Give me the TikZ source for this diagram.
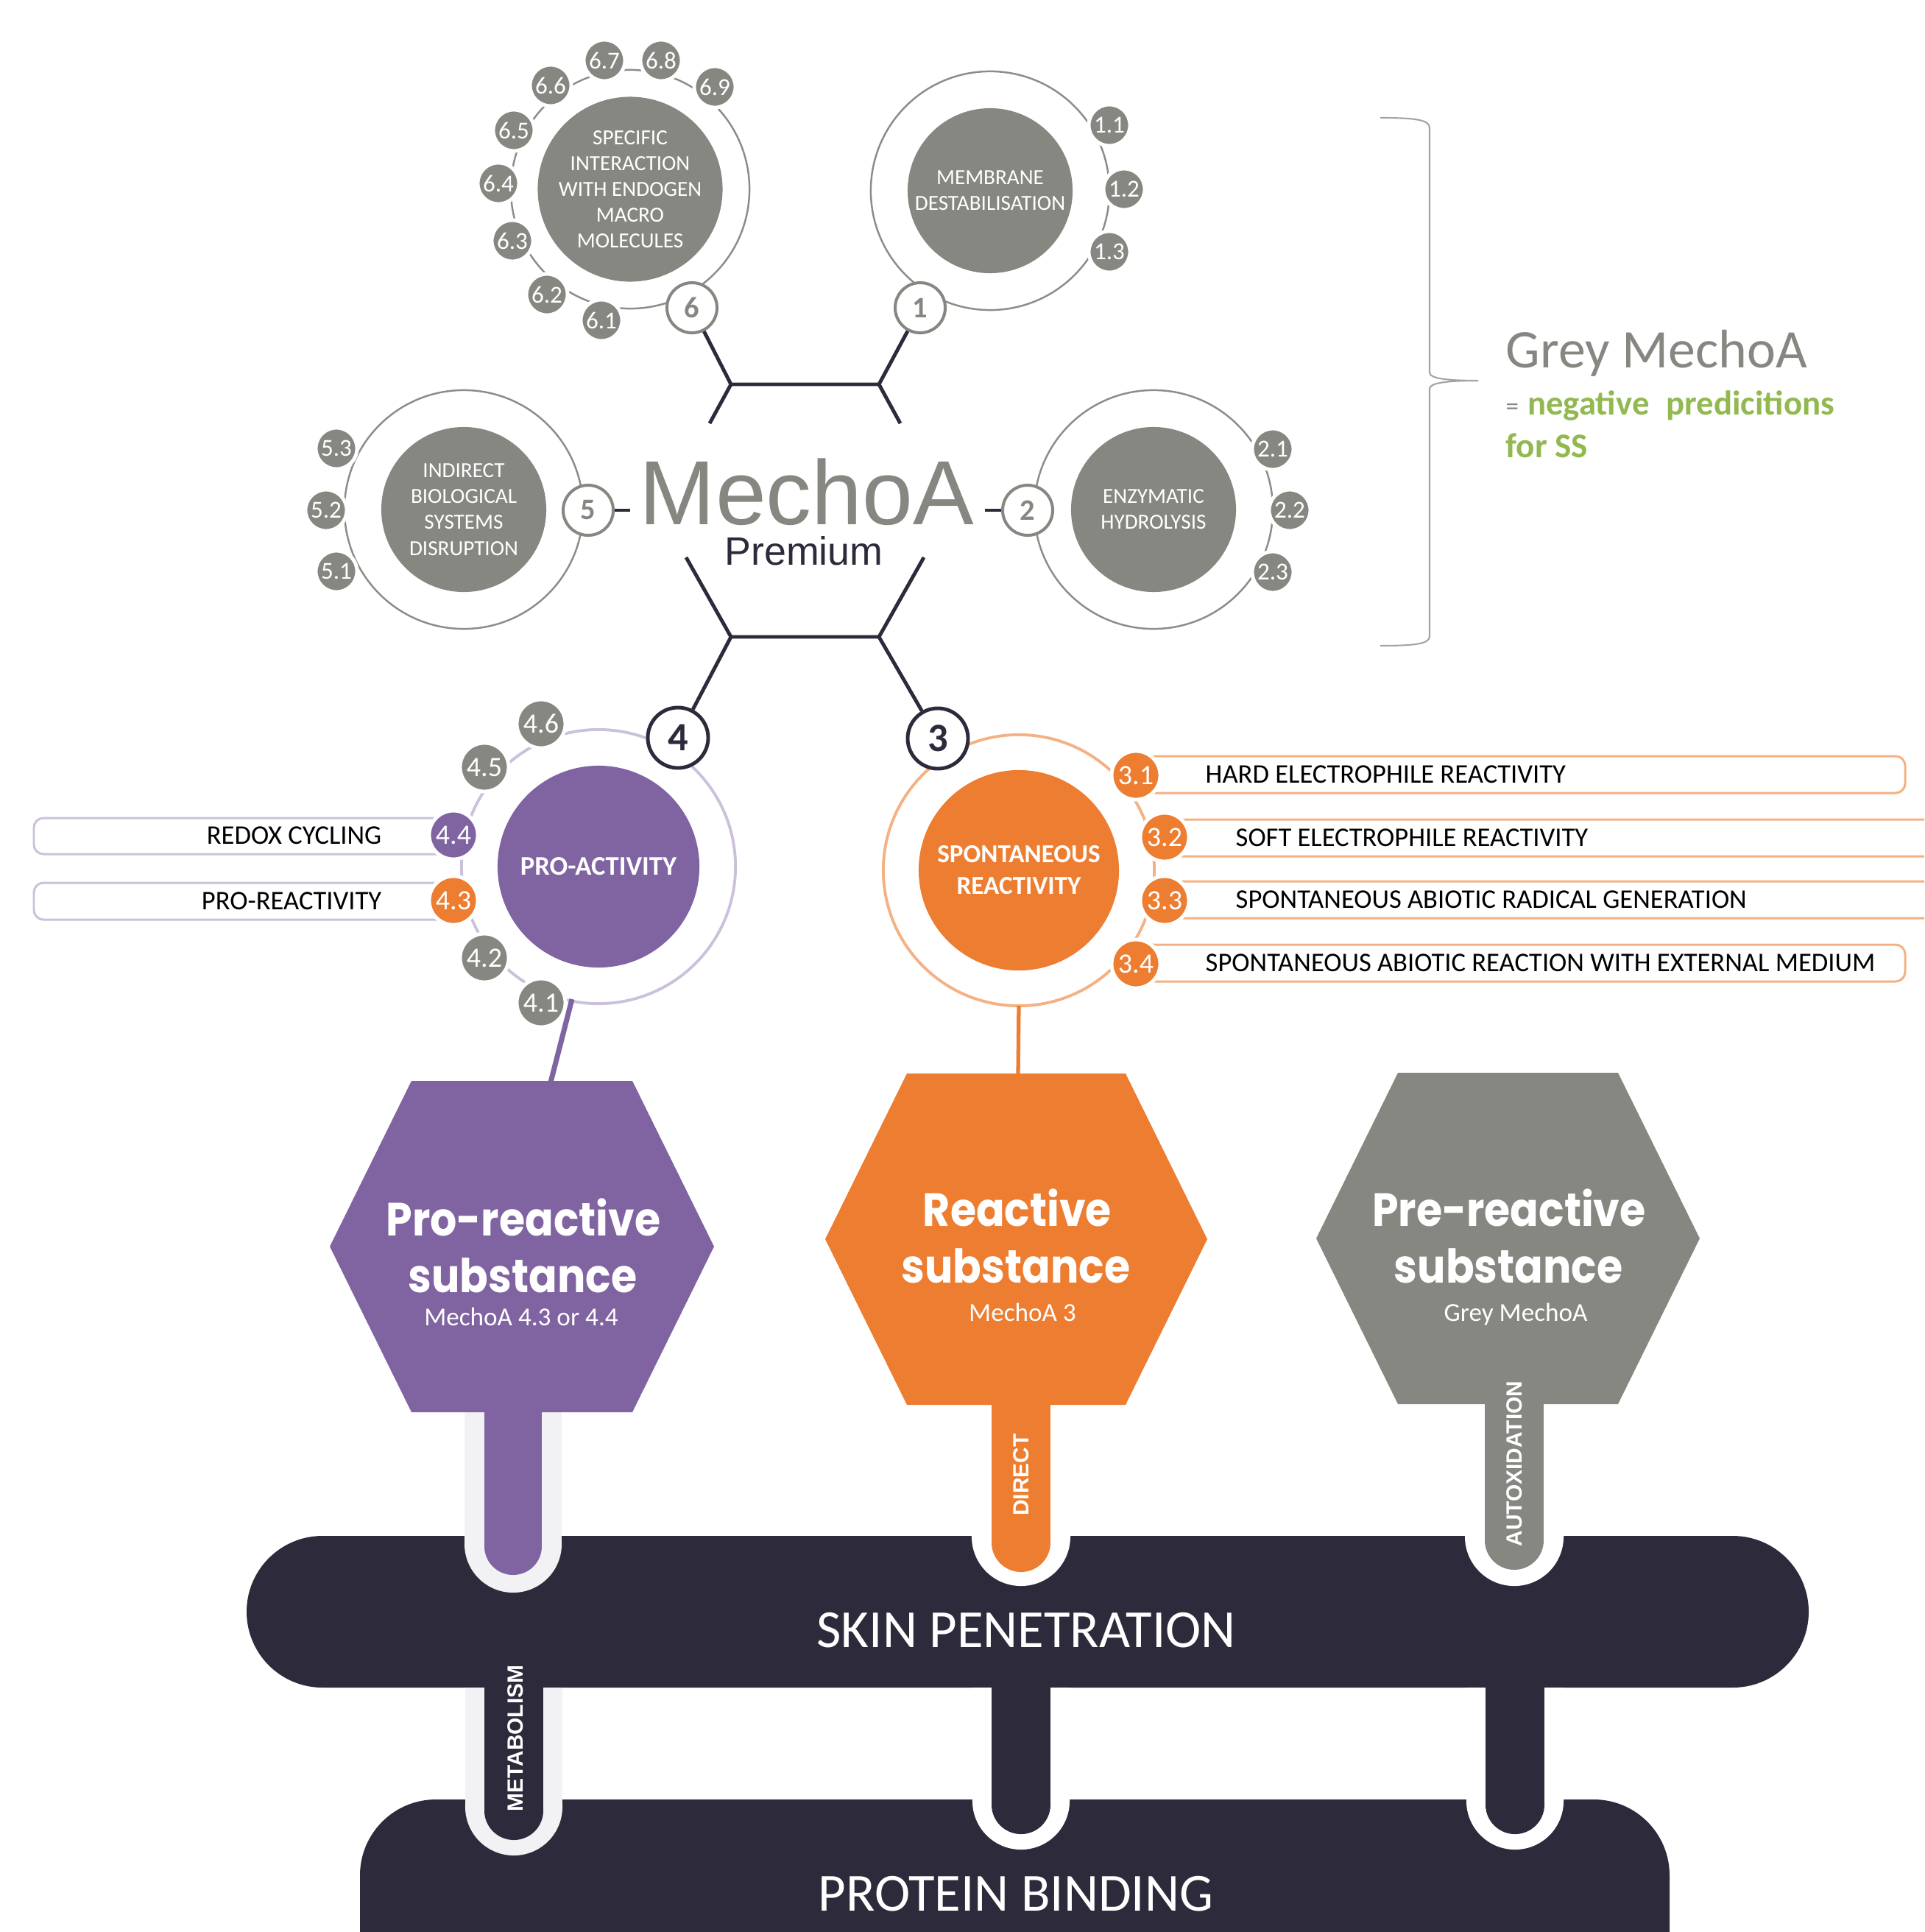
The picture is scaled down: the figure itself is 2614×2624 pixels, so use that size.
\documentclass[tikz,border=0pt]{standalone}
\usepackage{graphicx}
\usepackage{fontspec}
\setmainfont{Carlito}
\newfontfamily\arialf{Liberation Sans}
\newfontfamily\poppf{Poppins}
\definecolor{navy}{RGB}{45,43,59}
\definecolor{mgrey}{RGB}{135,135,130}
\definecolor{ringgrey}{RGB}{140,140,136}
\definecolor{mpurple}{RGB}{128,100,162}
\definecolor{lpurple}{RGB}{204,193,218}
\definecolor{morange}{RGB}{237,125,49}
\definecolor{lorange}{RGB}{244,177,131}
\definecolor{mgreen}{RGB}{146,185,80}
\definecolor{halo}{RGB}{242,242,245}
\newcommand{\htxt}[1]{\scalebox{0.9}[1]{#1}}
\begin{document}
\begin{tikzpicture}[x=0.01cm,y=-0.01cm,
  bub/.style={circle,fill=mgrey,draw=white,line width=1.4pt,minimum size=0.56cm,inner sep=0pt,text=white,font=\fontsize{9.4}{10}\selectfont},
  bubl/.style={bub,minimum size=0.66cm,font=\fontsize{10.8}{12}\selectfont},
  numc/.style={circle,fill=white,draw=mgrey,line width=1.15pt,minimum size=0.68cm,inner sep=0pt,text=mgrey,font=\bfseries\fontsize{11.5}{12}\selectfont},
  numd/.style={numc,draw=navy,text=navy,line width=1.4pt,minimum size=0.82cm,font=\bfseries\fontsize{15.5}{16}\selectfont},
  core/.style={circle,fill=mgrey,minimum size=2.24cm,inner sep=0pt,text=white,align=center,font=\fontsize{8.3}{10}\selectfont},
  ringg/.style={draw=ringgrey,line width=0.7pt},
  hexl/.style={draw=navy,line width=1.4pt},
  lbl/.style={inner sep=0pt,text=black,font=\fontsize{10.4}{12}\selectfont},
  lboxp/.style={draw=lpurple,fill=white,line width=0.85pt,rounded corners=0.13cm},
  lboxo/.style={draw=lorange,fill=white,line width=0.85pt,rounded corners=0.13cm},
  htitle/.style={inner sep=0pt,text=white,anchor=base,font=\poppf\bfseries\fontsize{18}{20}\selectfont},
  hsub/.style={inner sep=0pt,text=white,anchor=base,font=\fontsize{10}{12}\selectfont},
  vlab/.style={inner sep=0pt,text=white,rotate=90,font=\arialf\bfseries\fontsize{8.5}{10}\selectfont},
  barlab/.style={inner sep=0pt,text=white,anchor=base,font=\fontsize{20.7}{24}\selectfont},
]
\useasboundingbox (0,0) rectangle (2614,2624);
\clip (0,0) rectangle (2614,2624);
\fill[white] (0,0) rectangle (2614,2624);

% ---------- group 6
\draw[ringg] (856,257) circle [radius=1.62cm];
\node[core] (k6) at (856,257) {SPECIFIC\\INTERACTION\\WITH ENDOGEN\\MACRO\\MOLECULES};
\node[bub] (b61) at (817,435) {6.1};
\node[bub] (b62) at (743,400) {6.2};
\node[bub] (b63) at (696,327) {6.3};
\node[bub] (b64) at (677,249) {6.4};
\node[bub] (b65) at (698,177) {6.5};
\node[bub] (b66) at (748,116) {6.6};
\node[bub] (b67) at (821,82) {6.7};
\node[bub] (b68) at (898,82) {6.8};
\node[bub] (b69) at (971,118) {6.9};
\node[numc] (c6) at (940,418) {6};

% ---------- group 1
\draw[ringg] (1345,259) circle [radius=1.62cm];
\node[core] (k1) at (1345,259) {MEMBRANE\\DESTABILISATION};
\node[bub] (b11) at (1507,170) {1.1};
\node[bub] (b12) at (1527,257) {1.2};
\node[bub] (b13) at (1507,342) {1.3};
\node[numc] (c1) at (1250,418) {1};

% ---------- group 2
\draw[ringg] (1567,692) circle [radius=1.62cm];
\node[core] (k2) at (1567,692) {ENZYMATIC\\HYDROLYSIS};
\node[bub] (b21) at (1729,610) {2.1};
\node[bub] (b22) at (1752,693) {2.2};
\node[bub] (b23) at (1729,777) {2.3};
\node[numc] (c2) at (1396,693) {2};

% ---------- group 5
\draw[ringg] (630,692) circle [radius=1.62cm];
\node[core] (k5) at (630,692) {INDIRECT\\BIOLOGICAL\\SYSTEMS\\DISRUPTION};
\node[bub] (b53) at (457,609) {5.3};
\node[bub] (b52) at (443,693) {5.2};
\node[bub] (b51) at (457,776) {5.1};
\node[numc] (c5) at (799,693) {5};

% ---------- MechoA centre
\node[inner sep=0pt,anchor=base,text=mgrey,font=\arialf\fontsize{35.2}{40}\selectfont] (mt) at (1096,712) {MechoA};
\node[inner sep=0pt,anchor=base,text=navy,font=\arialf\fontsize{15.3}{18}\selectfont] (pt) at (1092,767) {Premium};

% ---------- group 4
\draw[lpurple,line width=1.1pt] (813,1177) circle [radius=1.86cm];
\draw[lboxp] (46,1111) rectangle (640,1160);
\draw[lboxp] (46,1199) rectangle (640,1249);
\node[core,fill=mpurple,minimum size=2.74cm,font=\bfseries\fontsize{10.4}{12}\selectfont] (k4) at (813,1177) {PRO-ACTIVITY};
\node[bubl] (b46) at (735,983) {4.6};
\node[bubl] (b45) at (658,1042) {4.5};
\node[bubl,fill=mpurple] (b44) at (616,1134) {4.4};
\node[bubl,fill=morange] (b43) at (616,1223) {4.3};
\node[bubl] (b42) at (658,1301) {4.2};
\node[bubl] (b41) at (735,1362) {4.1};
\node[numd] (c4) at (921,1002) {4};
\node[lbl,anchor=east] (t44) at (519,1135) {REDOX CYCLING};
\node[lbl,anchor=east] (t43) at (519,1224) {PRO-REACTIVITY};

% ---------- group 3
\draw[lorange,line width=1.1pt] (1384,1182) circle [radius=1.84cm];
\draw[lboxo] (1543,1027) rectangle (2588,1077);
\draw[lboxo] (1582,1113) rectangle (2700,1163);
\draw[lboxo] (1582,1197) rectangle (2700,1247);
\draw[lboxo] (1543,1283) rectangle (2588,1333);
\node[core,fill=morange,minimum size=2.72cm,font=\bfseries\fontsize{10}{12.2}\selectfont] (k3) at (1384,1182) {SPONTANEOUS\\REACTIVITY};
\node[bubl,fill=morange] (b31) at (1543,1053) {3.1};
\node[bubl,fill=morange] (b32) at (1582,1137) {3.2};
\node[bubl,fill=morange] (b33) at (1582,1223) {3.3};
\node[bubl,fill=morange] (b34) at (1543,1309) {3.4};
\node[numd] (c3) at (1274,1003) {3};
\node[lbl,anchor=west] (t31) at (1637,1052) {HARD ELECTROPHILE REACTIVITY};
\node[lbl,anchor=west] (t32) at (1678,1138) {SOFT ELECTROPHILE REACTIVITY};
\node[lbl,anchor=west] (t33) at (1678,1222) {SPONTANEOUS ABIOTIC RADICAL GENERATION};
\node[lbl,anchor=west] (t34) at (1637,1308) {SPONTANEOUS ABIOTIC REACTION WITH EXTERNAL MEDIUM};

% ---------- hexagon skeleton
\coordinate (ha) at (993,522);
\coordinate (hb) at (1194,522);
\coordinate (hc) at (993,865);
\coordinate (hd) at (1194,865);
\coordinate (sa) at (964,575);
\coordinate (sb) at (1223,575);
\coordinate (sc) at (932,757);
\coordinate (sd) at (1255,757);
\draw[hexl] (c6) -- (ha) -- (hb) -- (c1);
\draw[hexl] (ha) -- (sa);
\draw[hexl] (hb) -- (sb);
\draw[hexl] (sc) -- (hc) -- (hd) -- (sd);
\draw[hexl] (hc) -- (c4);
\draw[hexl] (hd) -- (c3);
\coordinate (d5) at (856,693);
\coordinate (d2) at (1338,693);
\draw[hexl] (c5) -- (d5);
\draw[hexl] (d2) -- (c2);

% ---------- connectors to substances
\coordinate (p4) at (777,1357);
\coordinate (hp) at (748,1470);
\draw[mpurple,line width=2pt] (p4) -- (hp);
\coordinate (p3) at (1384,1366);
\coordinate (ho) at (1383,1460);
\draw[morange,line width=1.5pt] (p3) -- (ho);

% ---------- bars
\fill[navy,rounded corners=1.03cm] (335,2086) rectangle (2457,2292);
\fill[navy,rounded corners=1.03cm] (489,2444) rectangle (2268,2800);

% upper stems
\fill[halo] (631,1918) rectangle (763,2097);
\fill[halo] (697,2097) circle [radius=0.66cm];
\fill[mpurple] (658,1918) rectangle (736,2100);
\fill[mpurple] (697,2100) circle [radius=0.39cm];
\fill[white] (1320,1908) rectangle (1454,2087);
\fill[white] (1387,2087) circle [radius=0.67cm];
\fill[morange] (1347,1908) rectangle (1427,2095);
\fill[morange] (1387,2095) circle [radius=0.40cm];
\fill[white] (1990,1907) rectangle (2124,2087);
\fill[white] (2057,2087) circle [radius=0.67cm];
\fill[mgrey] (2017,1907) rectangle (2097,2092);
\fill[mgrey] (2057,2092) circle [radius=0.40cm];
% lower stems
\fill[halo] (632,2292) rectangle (764,2454);
\fill[halo] (698,2454) circle [radius=0.66cm];
\fill[navy] (658,2292) rectangle (738,2459);
\fill[navy] (698,2459) circle [radius=0.40cm];
\fill[white] (1321,2292) rectangle (1453,2446);
\fill[white] (1387,2446) circle [radius=0.66cm];
\fill[navy] (1347,2292) rectangle (1427,2451);
\fill[navy] (1387,2451) circle [radius=0.40cm];
\fill[white] (1992,2292) rectangle (2124,2446);
\fill[white] (2058,2446) circle [radius=0.66cm];
\fill[navy] (2018,2292) rectangle (2098,2451);
\fill[navy] (2058,2451) circle [radius=0.40cm];

% hexagons
\fill[mpurple] (559,1468) -- (859,1468) -- (970,1693) -- (859,1918) -- (559,1918) -- (448,1693) -- cycle;
\fill[morange] (1232,1458) -- (1529,1458) -- (1640,1683) -- (1529,1908) -- (1232,1908) -- (1121,1683) -- cycle;
\fill[mgrey] (1899,1457) -- (2198,1457) -- (2309,1682) -- (2198,1907) -- (1899,1907) -- (1788,1682) -- cycle;

\node[htitle] (pr1) at (711,1678) {\htxt{Pro-reactive}};
\node[htitle] (pr2) at (710,1755) {\htxt{substance}};
\node[hsub] (pr3) at (708,1800) {MechoA 4.3 or 4.4};
\node[htitle] (re1) at (1382,1665) {\htxt{Reactive}};
\node[htitle] (re2) at (1380,1742) {\htxt{substance}};
\node[hsub] (re3) at (1389,1794) {MechoA 3};
\node[htitle] (gr1) at (2050,1665) {\htxt{Pre-reactive}};
\node[htitle] (gr2) at (2049,1742) {\htxt{substance}};
\node[hsub] (gr3) at (2059,1794) {Grey MechoA};

\node[vlab] (v1) at (1387,2003) {DIRECT};
\node[vlab] (v2) at (2057,1988) {AUTOXIDATION};
\node[vlab] (v3) at (700,2361) {METABOLISM};

\node[barlab] (skin) at (1394,2237) {SKIN PENETRATION};
\node[barlab] (prot) at (1380,2595) {PROTEIN BINDING};

% ---------- legend
\draw[draw=ringgrey!80,line width=0.6pt] (1875,160) .. controls (1925,160) and (1942,163) .. (1942,174) -- (1942,506) .. controls (1942,514) and (1965,517) .. (2008,517) .. controls (1965,517) and (1942,520) .. (1942,528) -- (1942,864) .. controls (1942,874) and (1925,877) .. (1875,877);
\node[inner sep=0pt,anchor=base west,text=mgrey,font=\fontsize{21}{24}\selectfont] (lg1) at (2045,499) {Grey MechoA};
\node[inner sep=0pt,anchor=base west,text=mgreen,font=\fontsize{13.3}{16}\selectfont] (lg2) at (2045,563) {{\color{mgrey}\fontsize{10}{12}\selectfont =}\hspace{0.12cm}\textbf{negative}\hspace{0.23cm}\textbf{predicitions}};
\node[inner sep=0pt,anchor=base west,text=mgreen,font=\bfseries\fontsize{13.4}{16}\selectfont] (lg3) at (2045,621) {for SS};
\end{tikzpicture}
\end{document}
